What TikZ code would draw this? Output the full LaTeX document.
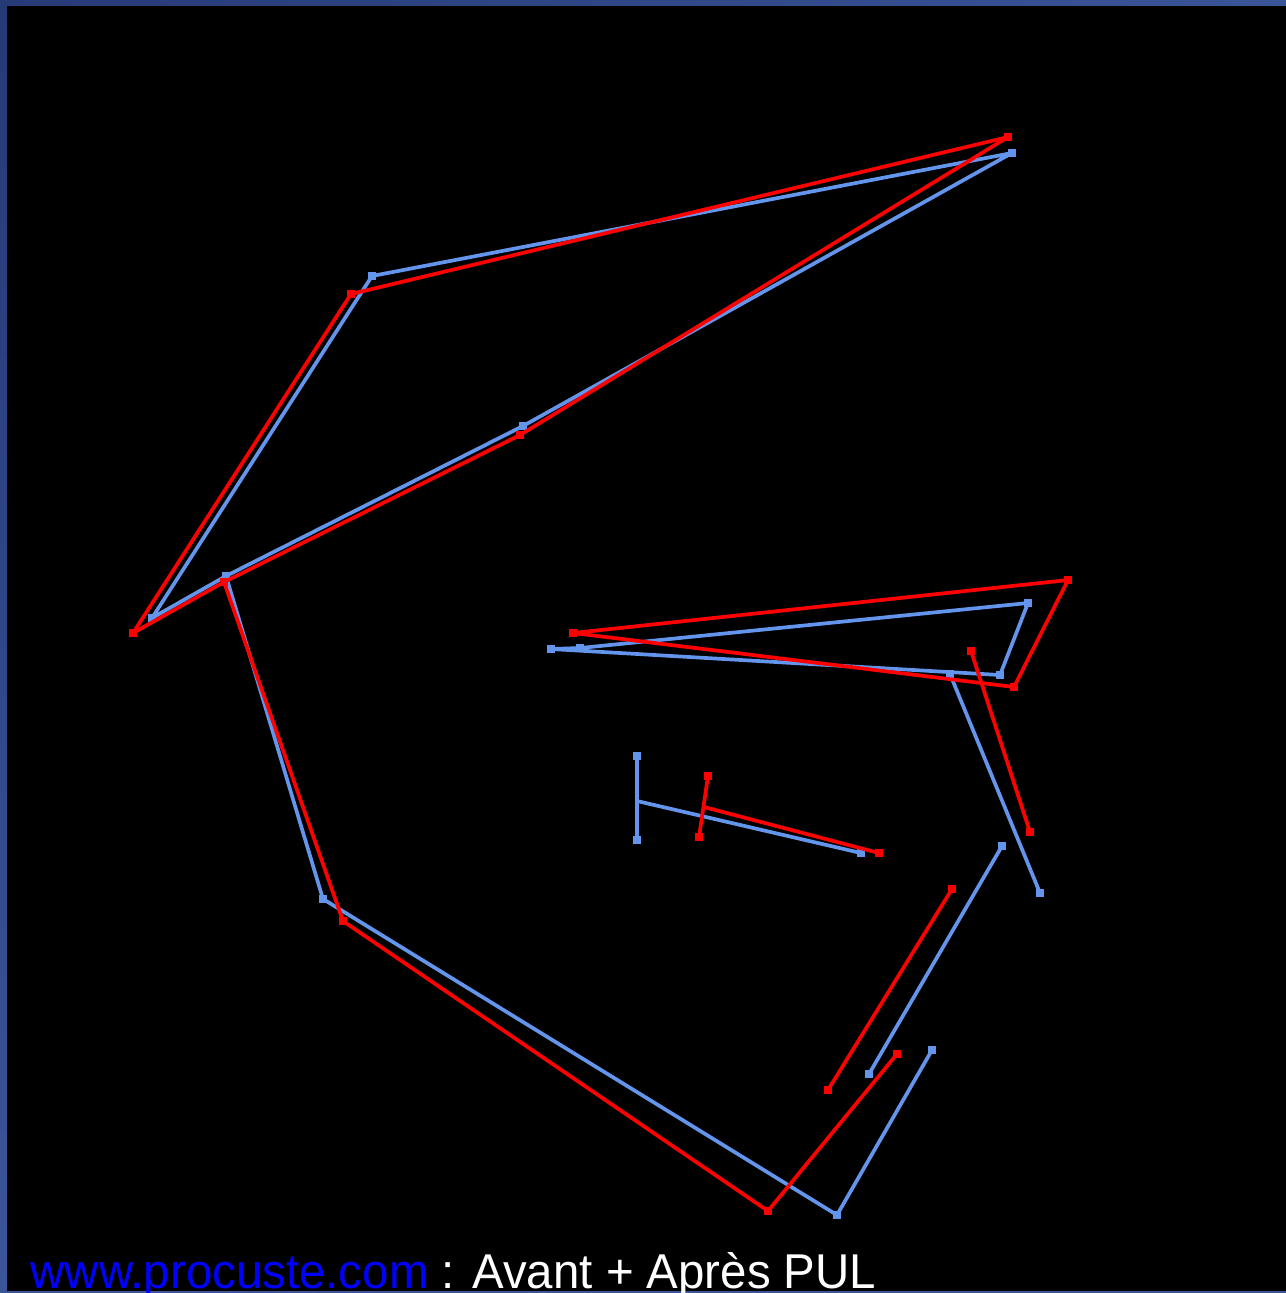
\documentclass[tikz,border=0pt]{standalone}
\usepackage{fontspec}
\newfontfamily\capfont{Liberation Sans}
\usepackage{tikz}
\usetikzlibrary{positioning}
\definecolor{avantblue}{HTML}{6495ED}
\definecolor{apresred}{HTML}{FF0000}
\definecolor{framedark}{HTML}{263A76}
\definecolor{framelight}{HTML}{3A5598}
\definecolor{linkblue}{HTML}{0000FF}

\begin{document}
\begin{tikzpicture}[
  x=0.01cm, y=-0.01cm,
  avant/.style={draw=avantblue, line width=1.05pt, line join=round},
  apres/.style={draw=apresred, line width=1.05pt, line join=round},
  bmark/.style={fill=avantblue, minimum size=2.3pt, inner sep=0pt},
  rmark/.style={fill=apresred, minimum size=2.3pt, inner sep=0pt}
]
  % Background and frame
  \fill[black] (0,0) rectangle (1286,1293);
  \useasboundingbox (0,0) rectangle (1286,1293);
  \shade[left color=framedark, right color=framelight] (0,0) rectangle (1286,5);
  \shade[top color=framedark, bottom color=framelight] (0,0) rectangle (7,1293);
  \fill[framelight] (0,1291) rectangle (1286,1293);

  % Avant (blue) points
  \foreach \n/\x/\y in {b1/1012/153, b2/372/276, b3/152/618, b4/226/576,
      b5/523/426, b6/323/899, b7/837/1215, b8/932/1050,
      b9/551/649, b10/580/648, b11/1028/603, b12/1000/675,
      b13/950/674, b14/1040/893, b15/637/756, b16/637/840,
      b17/637/801, b18/861/853, b19/1002/846, b20/869/1074}
    \coordinate (\n) at (\x,\y);

  % Apres (red) points
  \foreach \n/\x/\y in {r1/1008/137, r2/351/294, r3/133/633, r4/224/582,
      r5/520/435, r6/343/921, r7/768/1211, r8/897/1054,
      r9/573/633, r10/1068/580, r11/1014/687, r12/971/651,
      r13/1030/832, r14/708/776, r15/699/837, r16/704/807,
      r17/879/853, r18/952/889, r19/828/1090}
    \coordinate (\n) at (\x,\y);

  % Avant
  \draw[avant] (b1) -- (b2) -- (b3) -- (b4) -- (b5) -- cycle;
  \draw[avant] (b4) -- (b6) -- (b7) -- (b8);
  \draw[avant] (b10) -- (b11) -- (b12) -- (b9) -- (b10);
  \draw[avant] (b13) -- (b14);
  \draw[avant] (b15) -- (b16);
  \draw[avant] (b17) -- (b18);
  \draw[avant] (b19) -- (b20);
  \foreach \p in {b1,b2,b3,b4,b5,b6,b7,b8,b9,b10,b11,b12,b13,b14,
      b15,b16,b18,b19,b20}
    \node[bmark] (m-\p) at (\p) {};

  % Apres
  \draw[apres] (r1) -- (r2) -- (r3) -- (r4) -- (r5) -- cycle;
  \draw[apres] (r4) -- (r6) -- (r7) -- (r8);
  \draw[apres] (r9) -- (r10) -- (r11) -- cycle;
  \draw[apres] (r12) -- (r13);
  \draw[apres] (r14) -- (r15);
  \draw[apres] (r16) -- (r17);
  \draw[apres] (r18) -- (r19);
  \foreach \p in {r1,r2,r3,r4,r5,r6,r7,r8,r9,r10,r11,r12,r13,r14,
      r15,r17,r18,r19}
    \node[rmark] (m-\p) at (\p) {};

  % Caption
  \node[anchor=base west, inner sep=0pt, xscale=0.97, text=white,
    font=\capfont\fontsize{13.9pt}{16pt}\selectfont] (caption) at (30,1288)
    {\textcolor{linkblue}{www.procuste.com} : Avant + Après PUL};
\end{tikzpicture}
\end{document}
